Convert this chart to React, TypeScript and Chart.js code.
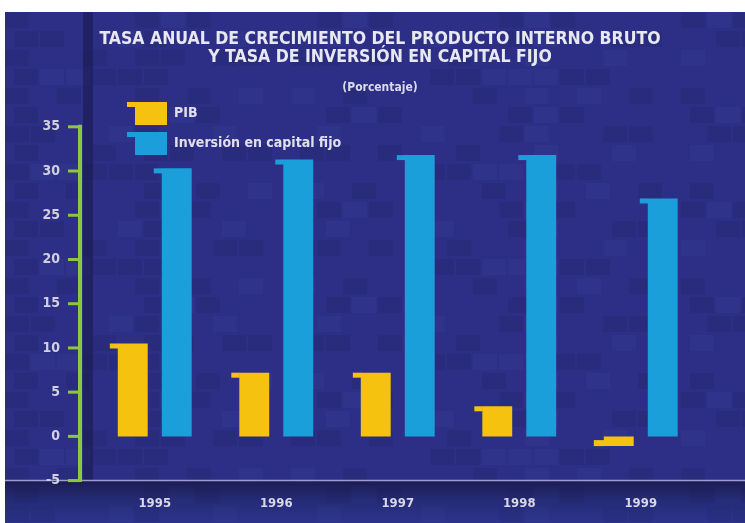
import React, { useEffect, useRef } from "react";
import { Chart, registerables } from "chart.js";

Chart.register(...registerables);

const years = ["1995", "1996", "1997", "1998", "1999"];
const pibValues = [10.5, 7.2, 7.2, 3.4, -1.1];
const inversionValues = [30.3, 31.3, 31.8, 31.8, 26.9];
const seriesNames = ["PIB", "Inversión en capital fijo"];
const titleLines = [
  "TASA ANUAL DE CRECIMIENTO DEL PRODUCTO INTERNO BRUTO",
  "Y TASA DE INVERSIÓN EN CAPITAL FIJO",
];
const subtitleText = "(Porcentaje)";
const yMin = -5;
const yMax = 35;
const yStep = 5;

const W = 745;
const H = 523;
const FONT = '"DejaVu Sans Condensed", "Liberation Sans Narrow", "DejaVu Sans", sans-serif';
const BG = "#2D2F86";
const YELLOW = "#F4C20F";
const BLUE = "#1A9FDA";
const GREEN = "#8DC63F";

const backgroundPlugin = {
  id: "bgDecor",
  beforeDraw(chart: any) {
    const ctx = chart.ctx;
    ctx.save();
    ctx.fillStyle = "#FFFFFF";
    ctx.fillRect(0, 0, W, H);
    ctx.fillStyle = BG;
    ctx.fillRect(5, 12, W - 5, H - 12);
    // subtle block texture
    const cw = 26, chh = 19;
    for (let j = 0; j * chh < H; j++) {
      for (let i = 0; i * cw < W; i++) {
        const k = (i * 37 + j * 91 + ((i * j) % 5)) % 7;
        if (k === 0 || k === 3) {
          ctx.fillStyle = "rgba(20,20,70,0.14)";
        } else if (k === 5) {
          ctx.fillStyle = "rgba(90,95,190,0.09)";
        } else continue;
        const x = 5 + i * cw + ((j % 2) * 9);
        const y = 12 + j * chh;
        ctx.fillRect(x, y, cw - 2, chh - 3);
      }
    }
    // dark strip right of the axis
    ctx.fillStyle = "rgba(22,22,70,0.5)";
    ctx.fillRect(83, 12, 10, 468);
    // bottom band
    const g = ctx.createLinearGradient(0, 481, 0, H);
    g.addColorStop(0, "rgba(20,20,60,0.7)");
    g.addColorStop(1, "rgba(40,60,150,0.3)");
    ctx.fillStyle = g;
    ctx.fillRect(5, 481, W - 5, H - 481);
    ctx.strokeStyle = "#9C9CD6";
    ctx.lineWidth = 1.5;
    ctx.beginPath();
    ctx.moveTo(5, 480.5);
    ctx.lineTo(W, 480.5);
    ctx.stroke();
    ctx.restore();
  },
};

const placePlugin = {
  id: "placeBoxes",
  afterLayout(chart: any) {
    const lg = chart.legend;
    if (lg) {
      const w = lg.width;
      const h = lg.height;
      lg.left = 128;
      lg.right = 128 + w;
      lg.top = 95;
      lg.bottom = 95 + h;
    }
    (chart.boxes || []).forEach((b: any) => {
      if (b !== lg && b.options && b.options.text !== undefined && b.position === "top") {
        b.left += 23.25;
        b.right += 23.25;
      }
    });
  },
};

const decorPlugin = {
  id: "decor",
  afterDatasetsDraw(chart: any) {
    const ctx = chart.ctx;
    ctx.save();
    chart.data.datasets.forEach((ds: any, di: number) => {
      const meta = chart.getDatasetMeta(di);
      meta.data.forEach((el: any) => {
        const p = el.getProps(["x", "y", "base", "width"], true);
        const left = p.x - p.width / 2;
        ctx.fillStyle = ds.backgroundColor;
        if (p.y <= p.base) {
          ctx.fillRect(left - 8, p.y, 8.5, 5);
        } else {
          ctx.fillRect(left - 10, p.y - 6, 10.5, 6);
        }
      });
    });
    ctx.restore();
  },
  afterDraw(chart: any) {
    const ctx = chart.ctx;
    const ys = chart.scales.y;
    ctx.save();
    ctx.strokeStyle = GREEN;
    ctx.lineWidth = 4;
    ctx.beginPath();
    ctx.moveTo(80, ys.getPixelForValue(yMax) - 2);
    ctx.lineTo(80, ys.getPixelForValue(yMin) + 1.5);
    ctx.stroke();
    ctx.lineWidth = 3;
    for (let v = yMin; v <= yMax; v += yStep) {
      const py = ys.getPixelForValue(v);
      ctx.beginPath();
      ctx.moveTo(68, py);
      ctx.lineTo(80, py);
      ctx.stroke();
    }
    const lg = chart.legend;
    if (lg && lg.legendHitBoxes) {
      lg.legendHitBoxes.forEach((hb: any, i: number) => {
        const item = lg.legendItems[i];
        ctx.fillStyle = item.fillStyle;
        ctx.fillRect(hb.left - 8, hb.top, 8.5, 5);
      });
    }
    ctx.restore();
  },
};

export default function App() {
  const ref = useRef<HTMLCanvasElement | null>(null);
  useEffect(() => {
    if (!ref.current) return;
    const chart = new Chart(ref.current, {
      type: "bar",
      data: {
        labels: years,
        datasets: [
          {
            label: seriesNames[0],
            data: pibValues,
            backgroundColor: YELLOW,
            borderWidth: 0,
            categoryPercentage: 0.724,
            barPercentage: 0.68,
          },
          {
            label: seriesNames[1],
            data: inversionValues,
            backgroundColor: BLUE,
            borderWidth: 0,
            categoryPercentage: 0.724,
            barPercentage: 0.68,
          },
        ],
      },
      options: {
        responsive: false,
        animation: false,
        layout: { padding: { left: 12, right: 43.5, top: 0, bottom: 0 } },
        scales: {
          x: {
            grid: { display: false, drawTicks: false },
            border: { display: false },
            ticks: {
              color: "#D8D8E6",
              padding: 15,
              font: { family: FONT, size: 13, weight: "bold" },
            },
            afterFit: (s: any) => {
              s.height = 35;
            },
          },
          y: {
            min: yMin,
            max: yMax,
            grid: { display: false, drawTicks: false },
            border: { display: false },
            ticks: {
              stepSize: yStep,
              color: "#D0D0E0",
              padding: 34,
              font: { family: FONT, size: 14, weight: "bold" },
            },
            afterFit: (s: any) => {
              s.width = 82;
            },
          },
        },
        plugins: {
          title: {
            display: true,
            text: titleLines,
            color: "#E8E8F2",
            font: { family: FONT, size: 17.5, weight: "bold", lineHeight: 1.02 },
            padding: { top: 31, bottom: 0 },
          },
          subtitle: {
            display: true,
            text: subtitleText,
            color: "#DCDCEA",
            font: { family: FONT, size: 12, weight: "bold", lineHeight: 1.2 },
            padding: { top: 14, bottom: 31.7 },
          },
          legend: {
            position: "chartArea",
            align: "start",
            labels: {
              boxWidth: 32,
              boxHeight: 23,
              padding: 7,
              color: "#E0E0EC",
              font: { family: FONT, size: 14, weight: "bold" },
            },
          },
          tooltip: { enabled: false },
        },
      },
      plugins: [backgroundPlugin, placePlugin, decorPlugin],
    } as any);
    return () => chart.destroy();
  }, []);
  return (
    <div style={{ position: "fixed", left: 0, top: 0, width: W, height: H }}>
      <canvas ref={ref} width={W} height={H} style={{ width: W, height: H, display: "block" }} />
    </div>
  );
}
